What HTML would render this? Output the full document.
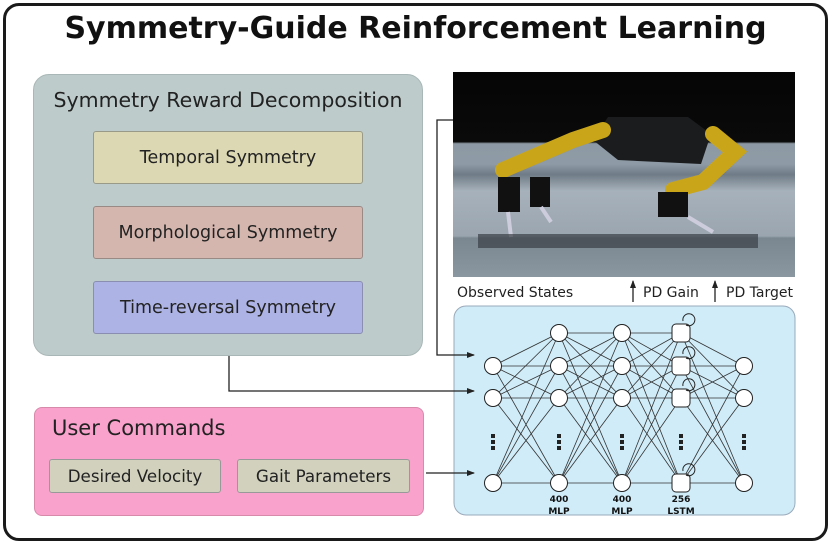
<!DOCTYPE html>
<html><head><style>
body{margin:0;width:831px;height:545px;background:#fff;position:relative;overflow:hidden;font-family:"DejaVu Sans","Liberation Sans",sans-serif}
.a{position:absolute;box-sizing:border-box}
.t{display:flex;align-items:center;justify-content:center;color:#222}
</style></head><body>
<div class="a" style="left:3px;top:3px;width:825px;height:538px;border:3px solid #1a1a1a;border-radius:16px"></div>
<div class="a" style="left:0;top:11px;width:831px;text-align:center;font-weight:bold;font-size:30px;color:#111">Symmetry-Guide Reinforcement Learning</div>
<div class="a" style="left:33px;top:74px;width:390px;height:282px;background:#bdcbca;border:1px solid #a9b8b7;border-radius:16px"></div>
<div class="a" style="left:33px;top:88px;width:390px;text-align:center;font-size:20.5px;color:#222">Symmetry Reward Decomposition</div>
<div class="a t" style="left:93px;top:131px;width:270px;height:53px;background:#dcd8b3;border:1px solid #9a9a88;border-radius:3px;font-size:17.5px">Temporal Symmetry</div>
<div class="a t" style="left:93px;top:206px;width:270px;height:53px;background:#d4b6ae;border:1px solid #9a8a86;border-radius:3px;font-size:17.5px">Morphological Symmetry</div>
<div class="a t" style="left:93px;top:281px;width:270px;height:53px;background:#adb3e4;border:1px solid #8a8eb0;border-radius:3px;font-size:17.5px">Time-reversal Symmetry</div>
<div class="a" style="left:34px;top:407px;width:390px;height:109px;background:#f9a2cc;border:1px solid #d88aab;border-radius:8px"></div>
<div class="a" style="left:52px;top:416px;font-size:21px;color:#222">User Commands</div>
<div class="a t" style="left:49px;top:459px;width:172px;height:34px;background:#d1d1bd;border:1px solid #999;border-radius:3px;font-size:16.7px">Desired Velocity</div>
<div class="a t" style="left:237px;top:459px;width:173px;height:34px;background:#d1d1bd;border:1px solid #999;border-radius:3px;font-size:16.7px">Gait Parameters</div>
<!-- robot image -->
<div class="a" style="left:453px;top:72px;width:342px;height:205px;background:linear-gradient(#050505 0,#0a0a0a 34%,#8d99a4 35%,#8e9aa5 45%,#6f7b86 50%,#a6b1bb 58%,#9aa5af 80%,#7a8690 81%,#8a96a0 100%)"></div>
<svg class="a" style="left:453px;top:72px" width="342" height="205">
<path d="M155 45 L235 45 L258 62 L248 92 L165 88 L140 68Z" fill="#1a1c1e"/>
<g stroke="#c9a51a" stroke-width="16" stroke-linecap="round" fill="none">
<path d="M50 98 L120 68 L150 58"/><path d="M260 62 L282 80 L250 110 L220 118"/></g>
<g fill="#111"><rect x="45" y="105" width="22" height="35"/><rect x="77" y="105" width="20" height="30"/><rect x="205" y="120" width="30" height="25"/></g>
<g stroke="#ccd" stroke-width="4"><path d="M55 140 L58 165"/><path d="M88 135 L98 150"/><path d="M235 145 L260 160"/></g>
<rect x="25" y="162" width="280" height="14" fill="#3a3f44" opacity=".7"/>
</svg>
<svg class="a" style="left:0;top:0" width="831" height="545">
<defs><marker id="ar" markerWidth="8" markerHeight="8" refX="7" refY="4" orient="auto" markerUnits="userSpaceOnUse"><path d="M0 1 L8 4 L0 7Z" fill="#222"/></marker></defs>
<rect x="454" y="306" width="341" height="209" rx="12" fill="#d0ecf8" stroke="#9ab" stroke-width="1"/>
<g stroke="#222" stroke-width="1.3" fill="none">
<path d="M453 120 H437 V355 H474" marker-end="url(#ar)"/>
<path d="M229 356 V391 H474" marker-end="url(#ar)"/>
<path d="M426 473 H474" marker-end="url(#ar)"/>
<path d="M633 302 V281" marker-end="url(#ar)"/>
<path d="M715 302 V281" marker-end="url(#ar)"/>
</g>
<text x="457" y="297" font-size="14" fill="#222" font-family="DejaVu Sans,sans-serif">Observed States</text>
<text x="643" y="297" font-size="14" fill="#222" font-family="DejaVu Sans,sans-serif">PD Gain</text>
<text x="726" y="297" font-size="14" fill="#222" font-family="DejaVu Sans,sans-serif">PD Target</text>
<g id="edges" stroke="#333" stroke-width="0.8"></g>
<g id="nodes"></g>
<g font-size="9" font-weight="bold" fill="#111" text-anchor="middle" font-family="DejaVu Sans,sans-serif">
<text x="559" y="502">400</text><text x="559" y="514">MLP</text>
<text x="622" y="502">400</text><text x="622" y="514">MLP</text>
<text x="681" y="502">256</text><text x="681" y="514">LSTM</text>
</g>
<g fill="#222" id="dots"></g>
</svg>
<script>
var X=[493,559,622,681,744],Y0=[366,398,483],Y1=[333,366,398,483];
var L=[Y0,Y1,Y1,Y1,Y0],e='',n='',d='';
for(var i=0;i<4;i++)for(var a of L[i])for(var b of L[i+1])e+='<line x1="'+X[i]+'" y1="'+a+'" x2="'+X[i+1]+'" y2="'+b+'"/>';
for(var i=0;i<5;i++){for(var y of L[i]){if(i==3){n+='<rect x="'+(X[i]-9)+'" y="'+(y-9)+'" width="18" height="18" rx="4" fill="#fff" stroke="#222"/><path d="M686 '+(y-8)+' a6 6 0 1 0 -3 -4" fill="none" stroke="#222"/>';}else n+='<circle cx="'+X[i]+'" cy="'+y+'" r="8.5" fill="#fff" stroke="#222"/>';}
for(var k=0;k<3;k++)d+='<rect x="'+(X[i]-2)+'" y="'+(434+k*6)+'" width="4" height="4"/>';}
document.getElementById('edges').innerHTML=e;document.getElementById('nodes').innerHTML=n;document.getElementById('dots').innerHTML=d;
</script>
</body></html>
